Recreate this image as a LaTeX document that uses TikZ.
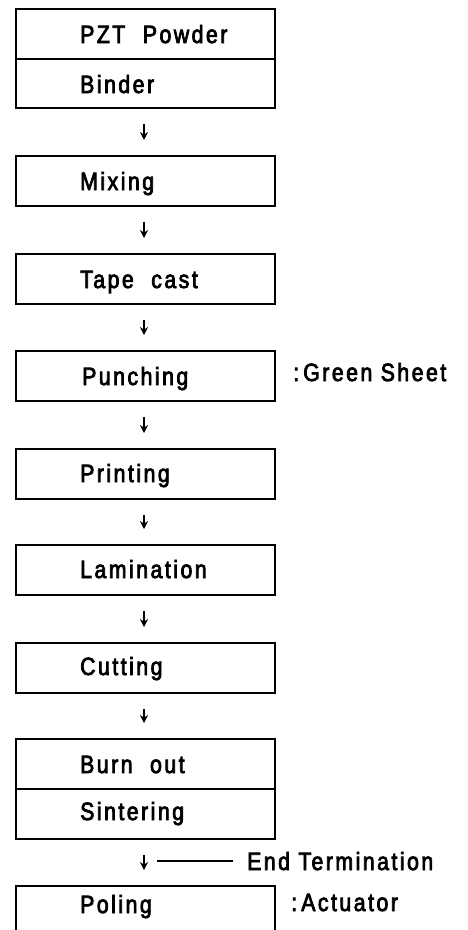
\documentclass[tikz,border=0pt]{standalone}
\usepackage{fontspec}
\setmainfont{Liberation Sans}[LetterSpace=10, FakeStretch=0.85, FakeBold=3]
\usetikzlibrary{arrows.meta}
\begin{document}
\begin{tikzpicture}[x=1pt,y=-1pt,
  stepbox/.style={draw, line width=2.2pt, minimum width=259pt, minimum height=49.5pt,
    inner sep=0pt, anchor=north west},
  steptxt/.style={anchor=base west, inner sep=0pt, font=\fontsize{25}{29}\selectfont},
  sidetxt/.style={anchor=base west, inner sep=0pt, font=\fontsize{25}{29}\selectfont},
  flow/.style={line width=2pt, -{Stealth[length=8pt,width=8pt]}}]
\clip (0,0) rectangle (467,930);
\fill[white] (0,0) rectangle (467,930);

% process boxes
\node[stepbox] (pzt)   at (15,8)   {};
\node[stepbox] (bind)  at (15,57.5) {};
\node[stepbox] (mix)   at (15,155) {};
\node[stepbox] (tape)  at (15,253) {};
\node[stepbox] (punch) at (15,350) {};
\node[stepbox] (print) at (15,448) {};
\node[stepbox] (lam)   at (15,544) {};
\node[stepbox] (cut)   at (15,642) {};
\node[stepbox] (burn)  at (15,738) {};
\node[stepbox] (sint)  at (15,788) {};
\node[stepbox] (pol)   at (15,885) {};

% box captions
\node[steptxt] (tpzt)   at (80,43)  {PZT\hspace{0.7em}Powder};
\node[steptxt] (tbind)  at (80,93)  {Binder};
\node[steptxt] (tmix)   at (80,190) {Mixing};
\node[steptxt] (ttape)  at (80,288) {Tape\hspace{0.7em}cast};
\node[steptxt] (tpunch) at (82,385) {Punching};
\node[steptxt] (tprint) at (80,482) {Printing};
\node[steptxt] (tlam)   at (80,578) {Lamination};
\node[steptxt] (tcut)   at (80,675) {Cutting};
\node[steptxt] (tburn)  at (80,773) {Burn\hspace{0.7em}out};
\node[steptxt] (tsint)  at (80,820) {Sintering};
\node[steptxt] (tpol)   at (80,913) {Poling};

% side notes
\node[sidetxt] (green) at (293,381) {:\,Green Sheet};
\node[sidetxt] (act)   at (291,911) {:\,Actuator};
\node[sidetxt] (endt)  at (247,870) {End Termination};

% flow arrows
\coordinate (ax) at (144,0);
\foreach \a/\b in {bind/mix, mix/tape, tape/punch, punch/print, print/lam, lam/cut, cut/burn, sint/pol}
  \draw[flow, shorten <=15pt, shorten >=15pt] (\a.south -| ax) -- (\b.north -| ax);

% end termination lead
\coordinate (lead) at (157,861);
\draw[line width=1.4pt] (lead) -- ([xshift=-14pt]endt.west |- lead);
\end{tikzpicture}
\end{document}
